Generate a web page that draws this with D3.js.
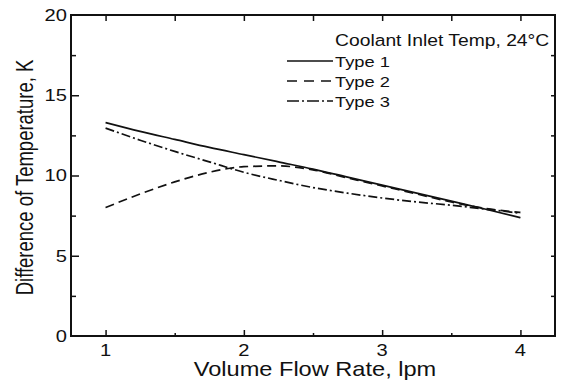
<!DOCTYPE html>
<html>
<head>
<meta charset="utf-8">
<script src="https://cdn.jsdelivr.net/npm/d3@7"></script>
<style>
  body { margin: 0; background: #fff; }
  text { font-family: "Liberation Sans", Arial, sans-serif; fill: #111; }
</style>
</head>
<body>
<div id="chartDiv"></div>
<script>
// flow rate (lpm) and temperature difference (K)
var flowRate = [1, 1.25, 1.5, 1.75, 2, 2.25, 2.5, 2.75, 3, 3.25, 3.5, 3.75, 4];
var type1 = [13.3, 12.75, 12.25, 11.75, 11.3, 10.85, 10.4, 9.9, 9.4, 8.9, 8.4, 7.9, 7.37];
var type2 = [8.0, 8.85, 9.6, 10.2, 10.55, 10.6, 10.35, 9.85, 9.35, 8.85, 8.35, 7.95, 7.7];
var type3 = [12.95, 12.2, 11.5, 10.85, 10.2, 9.7, 9.25, 8.9, 8.6, 8.35, 8.15, 7.9, 7.65];
var seriesNames = ['Type 1', 'Type 2', 'Type 3'];
var xTickLabels = [1, 2, 3, 4];
var yTickLabels = [0, 5, 10, 15, 20];
var legendTitle = 'Coolant Inlet Temp, 24°C';

var width = 564, height = 384;
// note: "top" is taken by window.top, so use plot* names
var plotL = 71, plotR = 555, plotT = 15, plotB = 336;

var svg = d3.select('#chartDiv').append('svg')
  .attr('width', width).attr('height', height);

var x = d3.scaleLinear().domain([0.75, 4.25]).range([plotL, plotR]);
var y = d3.scaleLinear().domain([0, 20]).range([plotB, plotT]);

// the source picture is stretched sideways, so text gets a horizontal scale
function label(px, py, str, size, sx, anchor) {
  return svg.append('text')
    .attr('transform', 'translate(' + px + ',' + py + ') scale(' + sx + ',1)')
    .attr('text-anchor', anchor)
    .attr('dy', '0.36em')
    .style('font-size', size + 'px')
    .text(str);
}

// ticks, all pointing inward
function tickAxis(axis, tx, ty, ticks, size) {
  svg.append('g')
    .attr('transform', 'translate(' + tx + ',' + ty + ')')
    .call(axis.tickValues(ticks).tickSize(-size).tickFormat(''))
    .call(function(g) { g.select('.domain').remove(); })
    .selectAll('line').attr('stroke', '#111').attr('stroke-width', 1.5);
}
var xMajor = [1, 2, 3, 4], xMinor = [1.5, 2.5, 3.5];
var yMajor = [5, 10, 15], yMinor = [2.5, 7.5, 12.5, 17.5];

tickAxis(d3.axisBottom(x), 0, plotB, xMajor, 6);
tickAxis(d3.axisBottom(x), 0, plotB, xMinor, 3);
tickAxis(d3.axisTop(x), 0, plotT, xMajor.concat(xMinor), 6);
tickAxis(d3.axisLeft(y), plotL, 0, yMajor, 8);
tickAxis(d3.axisLeft(y), plotL, 0, yMinor, 5);
tickAxis(d3.axisRight(y), plotR, 0, yMajor.concat(yMinor), 4);

// frame
svg.append('rect')
  .attr('x', plotL).attr('y', plotT)
  .attr('width', plotR - plotL).attr('height', plotB - plotT)
  .attr('fill', 'none').attr('stroke', '#111').attr('stroke-width', 2);

// tick labels
xTickLabels.forEach(function(d) { label(x(d), 350, d, 16.5, 1.22, 'middle'); });
yTickLabels.forEach(function(d) { label(67, y(d), d, 16.5, 1.22, 'end'); });

// axis titles
label((plotL + plotR) / 2 + 2, 369, 'Volume Flow Rate, lpm', 20, 1.18, 'middle');
svg.append('text')
  .attr('transform', 'translate(24,' + ((plotT + plotB) / 2 + 2) + ') rotate(-90) scale(1,1.3)')
  .attr('text-anchor', 'middle')
  .attr('dy', '0.36em')
  .style('font-size', '18.5px')
  .text('Difference of Temperature, K');

// lines
var dashes = ['none', '9,5', '9,3,2,3'];
var lineGen = d3.line()
  .x(function(d, i) { return x(flowRate[i]); })
  .y(function(d) { return y(d); })
  .curve(d3.curveMonotoneX);

[type1, type2, type3].forEach(function(vals, i) {
  svg.append('path')
    .attr('d', lineGen(vals))
    .attr('fill', 'none')
    .attr('stroke', '#111')
    .attr('stroke-width', 1.7)
    .attr('stroke-dasharray', dashes[i]);
});

// legend
label(335, 40, legendTitle, 16.5, 1.17, 'start');
var legendDash = ['none', '10,7', '12,3,2,3'];
seriesNames.forEach(function(name, i) {
  var ly = 61 + i * 20;
  svg.append('line')
    .attr('x1', 287).attr('x2', 333).attr('y1', ly).attr('y2', ly)
    .attr('stroke', '#111').attr('stroke-width', 1.6)
    .attr('stroke-dasharray', legendDash[i]);
  label(335, ly, name, 15.5, 1.18, 'start');
});
</script>
</body>
</html>
